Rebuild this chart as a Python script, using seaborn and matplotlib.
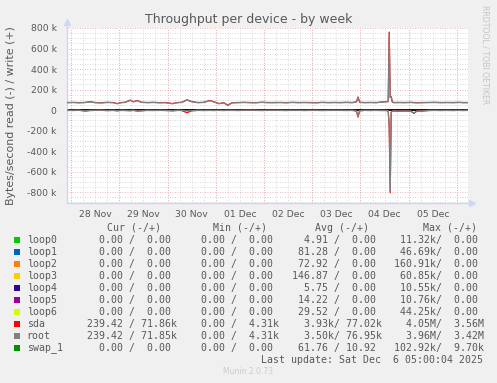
import matplotlib
matplotlib.use("Agg")
import matplotlib.pyplot as plt
import matplotlib.ticker as mticker
from matplotlib.patches import Rectangle
import numpy as np
import pandas as pd
import seaborn as sns

# ---------------- data (hours since 28 Nov 00:00, values in k bytes/s) ----------------
hours = [-2, 1, 4, 7, 9.5, 12, 15, 18, 21, 23,
         25, 27, 29.5, 31, 33, 35, 38, 41, 44, 47,
         50.5, 53, 55, 57.7, 60, 63, 66, 69, 71, 73.5,
         76, 78, 80, 83, 86, 89, 92, 95, 98, 101,
         104, 107, 110, 113, 116, 119, 122, 125, 128, 131,
         134, 137, 140, 142, 142.8, 143.6, 146, 149, 152, 154,
         156, 157.8, 158.3, 158.8, 159.3, 159.8, 160.5, 163, 166, 169,
         170.6, 172, 175, 178, 181, 184, 187, 190, 193, 195, 197.5]

root_write = [72, 74, 71, 73, 80, 72, 70, 74, 72, 62,
              72, 75, 95, 80, 92, 75, 72, 74, 71, 72,
              62, 72, 74, 97, 82, 72, 74, 92, 80, 62,
              70, 45, 70, 72, 74, 72, 71, 75, 72, 72,
              73, 71, 74, 72, 73, 72, 71, 74, 72, 73,
              72, 74, 72, 80, 122, 75, 72, 73, 72, 76,
              80, 82, 735, 120, 130, 80, 72, 73, 72, 74,
              72, 71, 72, 73, 74, 72, 73, 72, 74, 72, 72]
sda_write = [74, 75, 73, 75, 82, 74, 72, 76, 74, 64,
             74, 77, 98, 82, 94, 77, 74, 76, 73, 74,
             64, 74, 76, 100, 84, 74, 76, 94, 82, 64,
             72, 48, 72, 74, 76, 74, 73, 77, 74, 74,
             75, 73, 76, 74, 75, 74, 73, 76, 74, 75,
             74, 76, 74, 82, 128, 77, 74, 75, 74, 78,
             82, 84, 760, 124, 134, 82, 74, 75, 74, 76,
             74, 73, 74, 75, 76, 74, 75, 74, 76, 74, 74]
root_read = [2, 3, 1, 8, 3, 2, 1, 4, 2, 6,
             2, 3, 5, 2, 8, 6, 2, 3, 2, 3,
             6, 2, 3, 8, 6, 2, 3, 2, 3, 2,
             3, 2, 2, 3, 2, 1, 2, 3, 2, 2,
             2, 3, 2, 2, 3, 2, 2, 3, 2, 2,
             2, 3, 2, 8, 62, 6, 2, 3, 2, 3,
             3, 5, 150, 790, 20, 9, 8, 9, 8, 9,
             28, 9, 8, 3, 2, 3, 2, 3, 2, 3, 2]
sda_read = [3, 4, 2, 9, 4, 3, 2, 5, 3, 7,
            3, 4, 6, 3, 9, 7, 3, 4, 3, 4,
            7, 3, 4, 25, 7, 3, 4, 3, 4, 3,
            4, 3, 3, 4, 3, 2, 3, 4, 3, 3,
            3, 4, 3, 3, 4, 3, 3, 4, 3, 3,
            3, 4, 3, 10, 68, 7, 3, 4, 3, 4,
            4, 6, 160, 805, 22, 10, 9, 10, 9, 10,
            32, 10, 9, 4, 3, 4, 3, 4, 3, 4, 3]

day_ticks = [12, 36, 60, 84, 108, 132, 156, 180]
day_labels = ["28 Nov", "29 Nov", "30 Nov", "01 Dec", "02 Dec", "03 Dec", "04 Dec", "05 Dec"]
midnights = [0, 24, 48, 72, 96, 120, 144, 168, 192]
y_ticks = [-800, -600, -400, -200, 0, 200, 400, 600, 800]

legend_names = ["loop0", "loop1", "loop2", "loop3", "loop4", "loop5", "loop6", "sda", "root", "swap_1"]
legend_colors = ["#00CC00", "#0066B3", "#FF8000", "#FFCC00", "#330099", "#990099",
                 "#CCFF00", "#FF0000", "#808080", "#008F00"]
cur_col = ["  0.00 /  0.00 "] * 7 + ["239.42 / 71.86k", "239.42 / 71.85k", "  0.00 /  0.00 "]
min_col = ["  0.00 /  0.00 "] * 7 + ["  0.00 /  4.31k", "  0.00 /  4.31k", "  0.00 /  0.00 "]
avg_col = ["  4.91 /  0.00 ", " 81.28 /  0.00 ", " 72.92 /  0.00 ", "146.87 /  0.00 ",
           "  5.75 /  0.00 ", " 14.22 /  0.00 ", " 29.52 /  0.00 ", "  3.93k/ 77.02k",
           "  3.50k/ 76.95k", " 61.76 / 10.92 "]
max_col = [" 11.32k/  0.00 ", " 46.69k/  0.00 ", "160.91k/  0.00 ", " 60.85k/  0.00 ",
           " 10.55k/  0.00 ", " 10.76k/  0.00 ", " 44.25k/  0.00 ", "  4.05M/  3.56M",
           "  3.96M/  3.42M", "102.92k/  9.70k"]
headers = ["Cur (-/+)", "Min (-/+)", "Avg (-/+)", "Max (-/+)"]

# ---------------- figure ----------------
W, H = 497, 383
FONT = "#585858"
fig = plt.figure(figsize=(W / 100, H / 100), dpi=100, facecolor="#F0F0F0")
ax = fig.add_axes([67 / W, 180 / H, 401 / W, 175 / H])
ax.set_facecolor("#FFFFFF")

df = pd.DataFrame({"h": hours, "sda_w": sda_write, "root_w": root_write,
                   "sda_r": np.negative(sda_read), "root_r": np.negative(root_read)})

ax.axhline(0, color="black", lw=1.3, zorder=2)
for col, c in [("sda_r", "#FF0000"), ("sda_w", "#FF0000"), ("root_r", "#808080"), ("root_w", "#808080")]:
    sns.lineplot(data=df, x="h", y=col, ax=ax, color=c, lw=0.9, estimator=None, zorder=3)

ax.set_xlim(-2, 197.5)
ax.set_ylim(-905, 800)
ax.set_xlabel("")
ax.set_ylabel("")

# grid
ax.set_xticks(day_ticks)
ax.set_xticklabels(day_labels)
ax.xaxis.set_minor_locator(mticker.MultipleLocator(6))
ax.set_yticks(y_ticks)
ax.yaxis.set_major_formatter(mticker.FuncFormatter(lambda v, p: "0" if v == 0 else f"{v:g} k"))
ax.yaxis.set_minor_locator(mticker.MultipleLocator(50))
grid_kw = dict(linestyle=(0, (1, 2)), lw=0.6)
ax.grid(which="minor", axis="both", color="#CDCDCD", **grid_kw)
ax.grid(which="major", axis="x", color="#CDCDCD", **grid_kw)
ax.grid(which="major", axis="y", color="#E8A0A0", **grid_kw)
for m in midnights:
    ax.axvline(m, color="#E8A0A0", zorder=0.6, **grid_kw)
ax.set_axisbelow(True)

ax.tick_params(axis="both", which="both", length=0, colors=FONT, labelsize=6.7)
ax.tick_params(axis="y", pad=7.5)
ax.tick_params(axis="x", pad=5)

for s in ["top", "right"]:
    ax.spines[s].set_visible(False)
for s in ["left", "bottom"]:
    ax.spines[s].set_color("#CFD6F8")
    ax.spines[s].set_linewidth(1)

# axis arrows
ax.plot([0, 0], [1, 1.035], transform=ax.transAxes, color="#CFD6F8", lw=1, clip_on=False)
ax.plot([0], [1.035], transform=ax.transAxes, marker="^", ms=4, color="#CFD6F8", clip_on=False)
ax.plot([1, 1.01], [0, 0], transform=ax.transAxes, color="#CFD6F8", lw=1, clip_on=False)
ax.plot([1.01], [0], transform=ax.transAxes, marker=">", ms=4, color="#CFD6F8", clip_on=False)

# texts
fig.text(248.5 / W, 1 - 19.5 / H, "Throughput per device - by week", ha="center", va="center",
         fontsize=9, color=FONT)
fig.text(11 / W, 1 - 116 / H, "Bytes/second read (-) / write (+)", rotation=90,
         ha="center", va="center", fontsize=7.9, color=FONT)
fig.text(485 / W, 1 - 55 / H, "RRDTOOL / TOBI OETIKER", rotation=270, ha="center", va="center",
         fontsize=5.6, color="#C4C4C4")
fig.text(248 / W, 1 - 372 / H, "Munin 2.0.73", ha="center", va="center", fontsize=5.5, color="#CCCCCC")

mono = dict(family="DejaVu Sans Mono", fontsize=7.15, color=FONT, va="center")
for hx, htxt in zip([107, 213, 315, 422.7], headers):
    fig.text(hx / W, 1 - 227.7 / H, htxt, ha="left", **mono)
for i, name in enumerate(legend_names):
    yc = 240 + 12 * i
    fig.add_artist(Rectangle((14 / W, 1 - (yc + 2.8) / H), 5.6 / W, 5.6 / H,
                             transform=fig.transFigure, color=legend_colors[i], lw=0))
    fig.text(26.7 / W, 1 - yc / H, name, ha="left", **mono)
    fig.text(87 / W, 1 - yc / H, cur_col[i], ha="left", **mono)
    fig.text(189.1 / W, 1 - yc / H, min_col[i], ha="left", **mono)
    fig.text(292.1 / W, 1 - yc / H, avg_col[i], ha="left", **mono)
    fig.text(394.3 / W, 1 - yc / H, max_col[i], ha="left", **mono)
fig.text(483 / W, 1 - 360 / H, "Last update: Sat Dec  6 05:00:04 2025", ha="right", **mono)

fig.savefig("out.png", dpi=100, facecolor=fig.get_facecolor())
